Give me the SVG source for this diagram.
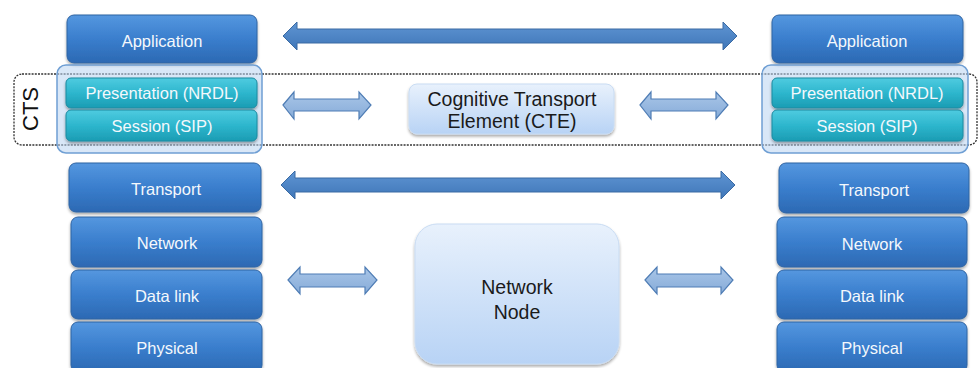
<svg xmlns="http://www.w3.org/2000/svg" width="980" height="368" viewBox="0 0 980 368">
  <defs>
    <linearGradient id="gBlue" x1="0" y1="0" x2="0" y2="1">
      <stop offset="0" stop-color="#5597df"/>
      <stop offset="0.5" stop-color="#3a7ecd"/>
      <stop offset="1" stop-color="#2c69b3"/>
    </linearGradient>
    <linearGradient id="gCyan" x1="0" y1="0" x2="0" y2="1">
      <stop offset="0" stop-color="#4fcbe0"/>
      <stop offset="0.5" stop-color="#2db6cd"/>
      <stop offset="1" stop-color="#1b9cb3"/>
    </linearGradient>
    <linearGradient id="gPale" x1="0" y1="0" x2="0" y2="1">
      <stop offset="0" stop-color="#e8f1fc"/>
      <stop offset="1" stop-color="#b8d3f5"/>
    </linearGradient>
    <linearGradient id="gArrow" x1="0" y1="0" x2="0" y2="1">
      <stop offset="0" stop-color="#5f95d3"/>
      <stop offset="1" stop-color="#3f76b8"/>
    </linearGradient>
    <linearGradient id="gArrowLight" x1="0" y1="0" x2="0" y2="1">
      <stop offset="0" stop-color="#a9c6e8"/>
      <stop offset="1" stop-color="#86abd8"/>
    </linearGradient>
    <filter id="shadow" x="-10%" y="-20%" width="120%" height="150%">
      <feGaussianBlur in="SourceAlpha" stdDeviation="1.5"/>
      <feOffset dy="2" result="b"/>
      <feComponentTransfer><feFuncA type="linear" slope="0.35"/></feComponentTransfer>
      <feMerge><feMergeNode/><feMergeNode in="SourceGraphic"/></feMerge>
    </filter>
  </defs>
  <style>
    .layer { fill: url(#gBlue); stroke: #2f64a3; stroke-width: 1; filter: url(#shadow); }
    .cyan { fill: url(#gCyan); stroke: #1c8aa0; stroke-width: 1; filter: url(#shadow); }
    .pale { fill: url(#gPale); stroke: #c9dcf3; stroke-width: 1; filter: url(#shadow); }
    .group { fill: #b9d3f0; fill-opacity: 0.55; stroke: #6f9fd4; stroke-width: 1.5; }
    .lbl { font-family: "Liberation Sans", Arial, sans-serif; font-size: 16.5px; fill: #f4f8fc; text-anchor: middle; }
    .dark { font-family: "Liberation Sans", Arial, sans-serif; font-size: 19.5px; fill: #1a1a1a; text-anchor: middle; }
    .arrow { fill: url(#gArrow); stroke: #3a6aa3; stroke-width: 1; }
    .arrowL { fill: url(#gArrowLight); stroke: #4f7db5; stroke-width: 1.2; }
    .cts { fill: none; stroke: #333; stroke-width: 1.3; stroke-dasharray: 2 1.2; }
  </style>

  <!-- CTS band -->
  <g id="cts">
    <rect class="cts" x="14" y="74" width="963" height="71" rx="8"/>
    <text transform="translate(38,109) rotate(-90)" text-anchor="middle" font-family="Liberation Sans, Arial, sans-serif" font-size="22" fill="#111">CTS</text>
  </g>

  <!-- left stack -->
  <g id="left-application"><rect class="layer" x="67" y="15" width="190" height="48" rx="7"/><text class="lbl" x="162" y="47">Application</text></g>
  <g id="left-cts-group"><rect class="group" x="57" y="65" width="205" height="88" rx="9"/></g>
  <g id="left-presentation"><rect class="cyan" x="66" y="78" width="191" height="30" rx="5"/><text class="lbl" x="162" y="99">Presentation (NRDL)</text></g>
  <g id="left-session"><rect class="cyan" x="66" y="110" width="191" height="31" rx="5"/><text class="lbl" x="162" y="132">Session (SIP)</text></g>
  <g id="left-transport"><rect class="layer" x="69" y="163" width="192" height="49" rx="7"/><text class="lbl" x="166" y="195">Transport</text></g>
  <g id="left-network"><rect class="layer" x="71" y="217" width="191" height="50" rx="7"/><text class="lbl" x="167" y="249">Network</text></g>
  <g id="left-datalink"><rect class="layer" x="71" y="270" width="191" height="49" rx="7"/><text class="lbl" x="167" y="302">Data link</text></g>
  <g id="left-physical"><rect class="layer" x="71" y="322" width="191" height="50" rx="7"/><text class="lbl" x="167" y="354">Physical</text></g>

  <!-- right stack -->
  <g id="right-application"><rect class="layer" x="772" y="15" width="191" height="48" rx="7"/><text class="lbl" x="867" y="47">Application</text></g>
  <g id="right-cts-group"><rect class="group" x="762" y="65" width="206" height="88" rx="9"/></g>
  <g id="right-presentation"><rect class="cyan" x="772" y="78" width="191" height="30" rx="5"/><text class="lbl" x="867" y="99">Presentation (NRDL)</text></g>
  <g id="right-session"><rect class="cyan" x="772" y="110" width="191" height="31" rx="5"/><text class="lbl" x="867" y="132">Session (SIP)</text></g>
  <g id="right-transport"><rect class="layer" x="779" y="163" width="190" height="50" rx="7"/><text class="lbl" x="874" y="196">Transport</text></g>
  <g id="right-network"><rect class="layer" x="777" y="217" width="190" height="50" rx="7"/><text class="lbl" x="872" y="250">Network</text></g>
  <g id="right-datalink"><rect class="layer" x="777" y="270" width="190" height="49" rx="7"/><text class="lbl" x="872" y="302">Data link</text></g>
  <g id="right-physical"><rect class="layer" x="777" y="322" width="190" height="50" rx="7"/><text class="lbl" x="872" y="354">Physical</text></g>

  <!-- middle elements -->
  <g id="cte"><rect class="pale" x="409" y="84" width="205" height="50" rx="8"/><text class="dark" x="512" y="106">Cognitive Transport</text><text class="dark" x="512" y="128">Element (CTE)</text></g>
  <g id="network-node"><rect class="pale" x="415" y="224" width="204" height="140" rx="22"/><text class="dark" x="517" y="294">Network</text><text class="dark" x="517" y="319">Node</text></g>

  <!-- connectors: double-headed block arrows -->
  <g id="connectors">
    <polygon class="arrow" points="283,36 297,22 297,29 723,29 723,22 737,36 723,50 723,43 297,43 297,50"/>
    <polygon class="arrow" points="281,185 295,171 295,178 721,178 721,171 735,185 721,199 721,192 295,192 295,199"/>
    <polygon class="arrowL" points="283,105 294,92 294,99 359,99 359,92 371,105 359,119 359,111 294,111 294,119"/>
    <polygon class="arrowL" points="640,105 651,92 651,99 716,99 716,92 728,105 716,119 716,111 651,111 651,119"/>
    <polygon class="arrowL" points="288,280 300,267 300,274 365,274 365,267 377,280 365,294 365,287 300,287 300,294"/>
    <polygon class="arrowL" points="645,280 657,267 657,274 721,274 721,267 733,280 721,294 721,287 657,287 657,294"/>
  </g>
</svg>
